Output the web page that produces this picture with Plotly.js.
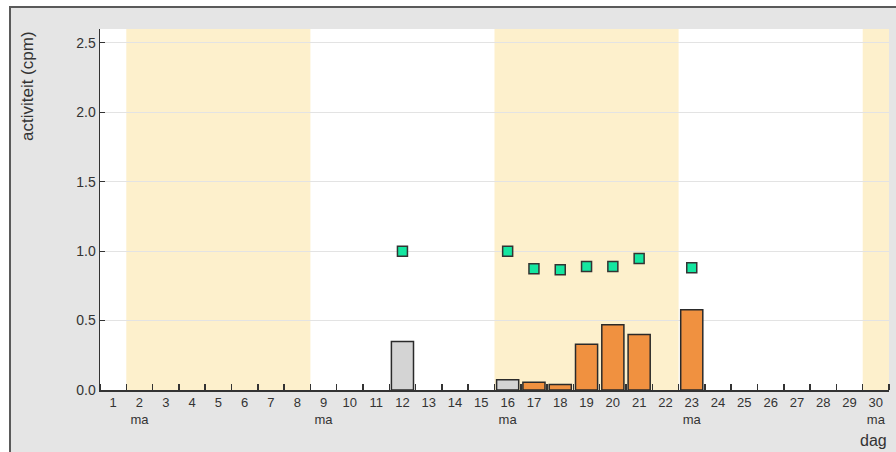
<!DOCTYPE html>
<html>
<head>
<meta charset="utf-8">
<script src="https://cdn.plot.ly/plotly-3.0.1.min.js"></script>
<style>
  html, body { margin: 0; padding: 0; background: #ffffff; width: 896px; height: 452px; overflow: hidden; }
  #chart { position: absolute; left: 9px; top: 6px; width: 887px; height: 446px;
           border-top: 2px solid #5a5a5a; border-left: 2px solid #5a5a5a; box-sizing: border-box; }
</style>
</head>
<body>
<div id="chart"></div>
<script>
// ---- data ----
const days = Array.from({length: 30}, (_, i) => i + 1);
const mondays = [2, 9, 16, 23, 30];

const greyDays = [12, 16];
const greyValues = [0.35, 0.073];

const orangeDays = [17, 18, 19, 20, 21, 23];
const orangeValues = [0.055, 0.04, 0.33, 0.47, 0.40, 0.578];

const pointDays = [12, 16, 17, 18, 19, 20, 21, 23];
const pointValues = [1.0, 1.0, 0.873, 0.866, 0.89, 0.89, 0.947, 0.88];

const weekStart = [1.5, 15.5, 29.5];
const weekEnd = [8.5, 22.5, 30.5];

const yTicks = [0, 0.5, 1.0, 1.5, 2.0, 2.5];

// ---- chart ----
const tickText = days.map(d => mondays.includes(d) ? (d + '<br>ma') : String(d));

const barLine = {color: '#2a2a2a', width: 1.5};
const traces = [
  {
    type: 'bar', x: greyDays, y: greyValues, width: 0.84,
    marker: {color: '#d4d4d4', line: barLine},
    hoverinfo: 'x+y', showlegend: false
  },
  {
    type: 'bar', x: orangeDays, y: orangeValues, width: 0.84,
    marker: {color: '#f09140', line: barLine},
    hoverinfo: 'x+y', showlegend: false
  },
  {
    type: 'scatter', mode: 'markers', x: pointDays, y: pointValues,
    marker: {symbol: 'square', size: 10, color: '#14e6a0', line: {color: '#333333', width: 1.5}},
    showlegend: false
  }
];

const shapes = weekStart.map((s, i) => ({
  type: 'rect', xref: 'x', yref: 'paper', x0: s, x1: weekEnd[i], y0: 0, y1: 1,
  fillcolor: '#fdf0cc', line: {width: 0}, layer: 'below'
}));

const font = {family: 'Liberation Sans, Arial, sans-serif', size: 13, color: '#333333'};

const layout = {
  width: 885, height: 444,
  margin: {l: 89, r: 7, t: 21, b: 62},
  paper_bgcolor: '#e5e5e5',
  plot_bgcolor: '#ffffff',
  font: font,
  barmode: 'overlay',
  showlegend: false,
  xaxis: {
    range: [0.5, 30.5],
    tickmode: 'array', tickvals: days, ticktext: tickText,
    ticks: '', ticklen: 0,
    showgrid: false, zeroline: false,
    showline: true, linecolor: '#333333', linewidth: 1.5,
    tickfont: {family: 'Liberation Sans, Arial, sans-serif', size: 13, color: '#333333'},
    minor: {tick0: 0.5, dtick: 1, ticks: 'inside', ticklen: 6, tickcolor: '#333333', tickwidth: 1.5, showgrid: false},
    fixedrange: true
  },
  yaxis: {
    range: [0, 2.6],
    tickmode: 'array', tickvals: yTicks, tickformat: '.1f',
    ticks: 'inside', ticklen: 5, tickcolor: '#333333', tickwidth: 1,
    showgrid: true, gridcolor: '#e3e3e3', gridwidth: 1,
    zeroline: false,
    showline: true, linecolor: '#333333', linewidth: 1.5,
    tickfont: {family: 'Liberation Sans, Arial, sans-serif', size: 14, color: '#333333'},
    fixedrange: true
  },
  shapes: shapes,
  annotations: [
    {
      text: 'activiteit (cpm)', xref: 'paper', yref: 'paper',
      x: -0.0925, y: 1.0, xanchor: 'center', yanchor: 'top',
      textangle: -90, showarrow: false,
      font: {family: 'Liberation Sans, Arial, sans-serif', size: 17, color: '#333333'}
    },
    {
      text: 'dag', xref: 'paper', yref: 'paper',
      x: 1.0, y: -0.14, xanchor: 'right', yanchor: 'middle',
      showarrow: false,
      font: {family: 'Liberation Sans, Arial, sans-serif', size: 16, color: '#333333'}
    }
  ]
};

Plotly.newPlot('chart', traces, layout, {displayModeBar: false, staticPlot: true});
</script>
</body>
</html>
